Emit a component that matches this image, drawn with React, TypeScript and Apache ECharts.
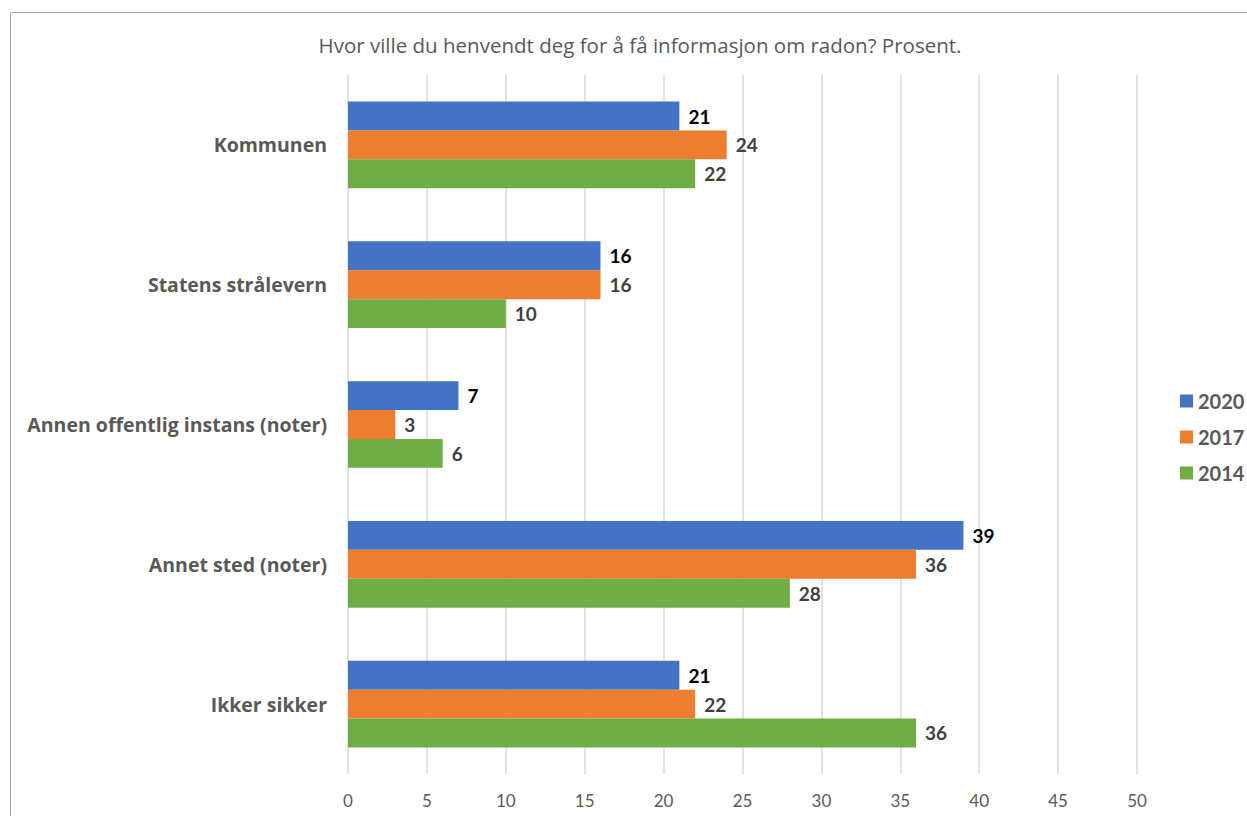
import React, { useEffect, useRef } from "react";
import * as echarts from "echarts";

const categories = [
  "Kommunen",
  "Statens strålevern",
  "Annen offentlig instans (noter)",
  "Annet sted (noter)",
  "Ikker sikker",
];
const values2020 = [21, 16, 7, 39, 21];
const values2017 = [24, 16, 3, 36, 22];
const values2014 = [22, 10, 6, 28, 36];
const seriesNames = ["2020", "2017", "2014"];
const colors = ["#4472C4", "#ED7D31", "#70AD47"];
const labelColors = ["#000000", "#404040", "#404040"];
const title = "Hvor ville du henvendt deg for å få informasjon om radon? Prosent.";
const FONT = "Lato";
const FONT2 = "Open Sans";

export default function App() {
  const ref = useRef<HTMLDivElement>(null);
  useEffect(() => {
    if (!ref.current) return;
    const chart = echarts.init(ref.current, null, { renderer: "svg" });
    const data = [values2020, values2017, values2014];
    chart.setOption({
      animation: false,
      backgroundColor: "#ffffff",
      title: {
        text: title,
        left: 635,
        textAlign: "center",
        top: 29,
        textStyle: { fontFamily: FONT2, fontSize: 20.5, fontWeight: "normal", color: "#595959" },
      },
      graphic: [
        {
          type: "rect",
          shape: { x: 10.5, y: 12.5, width: 1260, height: 820 },
          style: { fill: "none", stroke: "#a6a6a6", lineWidth: 1 },
          silent: true,
        },
      ],
      legend: {
        orient: "vertical",
        left: 1175,
        top: 386,
        itemWidth: 13,
        itemHeight: 13,
        itemGap: 16,
        icon: "rect",
        data: seriesNames,
        textStyle: { fontFamily: FONT, fontSize: 20, fontWeight: "bold", color: "#595959" },
      },
      grid: { left: 348, right: 110, top: 75, bottom: 42, containLabel: false },
      xAxis: {
        type: "value",
        min: 0,
        max: 50,
        interval: 5,
        axisLine: { show: false },
        axisTick: { show: false },
        splitLine: { show: true, lineStyle: { color: "#d9d9d9", width: 1.5 } },
        axisLabel: { margin: 18, fontFamily: FONT, fontSize: 17, color: "#595959" },
      },
      yAxis: {
        type: "category",
        data: categories,
        inverse: true,
        axisLine: { show: false },
        axisTick: { show: false },
        axisLabel: { margin: 21, fontFamily: FONT2, fontSize: 19.5, fontWeight: "bold", color: "#595959" },
      },
      series: seriesNames.map((name, i) => ({
        name,
        type: "bar",
        data: data[i],
        barGap: "0%",
        barCategoryGap: "38%",
        itemStyle: { color: colors[i] },
        label: {
          show: true,
          position: "right",
          distance: 9,
          fontFamily: FONT,
          fontSize: 19,
          fontWeight: "bold",
          color: labelColors[i],
        },
      })),
    });
    return () => chart.dispose();
  }, []);
  return (
    <div
      ref={ref}
      style={{ position: "fixed", left: 0, top: 0, width: 1247, height: 816 }}
    />
  );
}
